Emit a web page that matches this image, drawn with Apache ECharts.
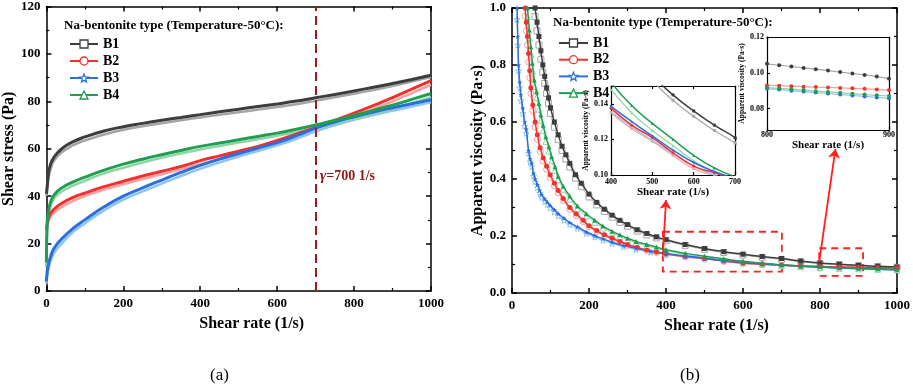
<!DOCTYPE html>
<html lang="en">
<head>
<meta charset="UTF-8" />
<title>Na-bentonite rheology</title>
<script src="https://cdn.jsdelivr.net/npm/echarts@6/dist/echarts.min.js"></script>
</head>
<body style="margin:0;background:#fff">
<div id="main" style="width:913px;height:386px"></div>
<script type="text/javascript">
// (a) shear stress vs shear rate, filled = up curve, back = light curve
var rateA = [0, 2, 5, 10, 20, 40, 70, 100, 150, 200, 250, 300, 350, 400, 450, 500, 550, 600, 650, 700, 750, 800, 850, 900, 950, 1000];
var b1A = [41, 44, 49, 53, 56.5, 60, 63, 65, 67.5, 69.3, 70.7, 72, 73.2, 74.4, 75.6, 76.7, 77.8, 78.9, 80.1, 81.5, 82.9, 84.4, 85.9, 87.5, 89.2, 91];
var b1Aback = [40, 43, 47, 51, 55, 58.5, 61.5, 63.5, 66, 68, 69.5, 70.8, 72, 73.2, 74.3, 75.4, 76.5, 77.6, 78.8, 80.2, 81.7, 83.2, 84.8, 86.5, 88.3, 90.2];
var b2A = [26, 28, 30.5, 32.5, 34.5, 37, 39.5, 41.3, 44, 46.3, 48.5, 50.5, 52.5, 55, 57, 59, 61, 63.5, 66.2, 69, 72, 75, 78.2, 81.6, 85.1, 88.7];
var b2Aback = [25, 27, 29, 31, 33, 35.5, 38, 40, 42.8, 45, 47.2, 49.2, 51.3, 53.5, 55.6, 57.6, 59.7, 62, 64.6, 67.4, 70.4, 73.5, 76.7, 80, 83.5, 87];
var b3A = [4, 8, 11, 14, 18, 22, 26.5, 30, 35.5, 40, 43.5, 46.8, 50, 53, 55.6, 58, 60.3, 62.6, 65.5, 68.7, 71.3, 73.5, 75.5, 77.3, 79, 80.7];
var b3Aback = [3, 6, 9, 12, 16, 20, 25, 28.5, 34, 38.5, 42, 45.3, 48.5, 51.5, 54.2, 56.7, 59, 61.4, 64.2, 67.3, 69.9, 72.2, 74.2, 76, 77.8, 79.6];
var b4A = [12, 29, 33, 37, 40.5, 43.5, 46, 48, 51, 53.5, 55.6, 57.5, 59.3, 61, 62.4, 63.8, 65.2, 66.6, 68.2, 70, 72, 74, 76.2, 78.4, 80.8, 83.3];
var b4Aback = [10, 27, 31.5, 35.5, 39, 42, 44.5, 46.5, 49.6, 52, 54.2, 56.2, 58, 59.7, 61.2, 62.6, 64, 65.5, 67, 68.7, 70.6, 72.6, 74.7, 76.9, 79.2, 81.7];

// (b) apparent viscosity vs shear rate
var rateB1 = [60, 65, 70, 75, 80, 85, 90, 95, 100, 110, 120, 130, 140, 150, 165, 180, 200, 220, 240, 260, 280, 300, 325, 350, 375, 400, 450, 500, 550, 600, 650, 700, 750, 800, 850, 900, 950, 1000];
var visB1 = [1.0, 0.95, 0.90, 0.85, 0.80, 0.76, 0.72, 0.685, 0.65, 0.60, 0.555, 0.515, 0.485, 0.455, 0.415, 0.385, 0.347, 0.318, 0.294, 0.273, 0.255, 0.240, 0.222, 0.209, 0.197, 0.187, 0.170, 0.156, 0.145, 0.136, 0.128, 0.121, 0.112, 0.105, 0.101, 0.097, 0.094, 0.091];
var visB1back = [0.97, 0.92, 0.87, 0.82, 0.775, 0.735, 0.70, 0.665, 0.63, 0.582, 0.538, 0.50, 0.47, 0.442, 0.403, 0.373, 0.337, 0.309, 0.286, 0.266, 0.248, 0.234, 0.217, 0.204, 0.193, 0.183, 0.167, 0.153, 0.142, 0.133, 0.125, 0.118, 0.1095, 0.1035, 0.0995, 0.096, 0.093, 0.090];
var rateB2 = [34, 37, 40, 43, 46, 49, 54, 60, 66, 73, 81, 90, 99, 110, 120, 133, 150, 167, 185, 200, 220, 240, 260, 280, 300, 325, 350, 375, 400, 450, 500, 550, 600, 650, 700, 750, 800, 850, 900, 950, 1000];
var visB2 = [1.0, 0.95, 0.90, 0.84, 0.78, 0.72, 0.66, 0.60, 0.555, 0.51, 0.475, 0.445, 0.415, 0.385, 0.36, 0.332, 0.30, 0.277, 0.255, 0.236, 0.219, 0.204, 0.192, 0.181, 0.170, 0.160, 0.151, 0.144, 0.1375, 0.128, 0.121, 0.1125, 0.105, 0.1013, 0.098, 0.095, 0.093, 0.0915, 0.0903, 0.089, 0.0885];
var visB2back = [0.97, 0.92, 0.87, 0.81, 0.755, 0.70, 0.64, 0.583, 0.54, 0.497, 0.463, 0.434, 0.405, 0.376, 0.352, 0.325, 0.294, 0.271, 0.25, 0.232, 0.215, 0.201, 0.189, 0.178, 0.167, 0.157, 0.149, 0.142, 0.135, 0.126, 0.119, 0.111, 0.1035, 0.0998, 0.0968, 0.094, 0.092, 0.0905, 0.0895, 0.0883, 0.0878];
var rateB3 = [13, 15, 17, 20, 23, 28, 33, 37, 43, 47, 51, 56, 60, 66, 72, 77, 85, 92, 99, 110, 120, 135, 150, 170, 193, 215, 236, 260, 290, 322, 360, 400, 450, 500, 550, 600, 650, 700, 750, 800, 850, 900, 950, 1000];
var visB3 = [1.0, 0.90, 0.80, 0.74, 0.695, 0.648, 0.60, 0.575, 0.50, 0.47, 0.455, 0.42, 0.40, 0.38, 0.36, 0.345, 0.33, 0.318, 0.307, 0.292, 0.278, 0.262, 0.247, 0.232, 0.214, 0.201, 0.19, 0.178, 0.166, 0.157, 0.146, 0.1385, 0.13, 0.122, 0.114, 0.107, 0.102, 0.098, 0.094, 0.091, 0.088, 0.0855, 0.083, 0.081];
var visB3back = [0.96, 0.87, 0.78, 0.72, 0.675, 0.63, 0.585, 0.56, 0.49, 0.46, 0.443, 0.41, 0.39, 0.37, 0.35, 0.336, 0.321, 0.31, 0.299, 0.284, 0.27, 0.255, 0.24, 0.226, 0.209, 0.196, 0.185, 0.174, 0.162, 0.153, 0.143, 0.1355, 0.127, 0.1195, 0.112, 0.105, 0.1, 0.096, 0.0925, 0.0895, 0.0868, 0.0843, 0.082, 0.080];
var rateB4 = [40, 45, 49, 53, 58, 64, 70, 75, 81, 88, 96, 103, 112, 120, 133, 150, 170, 193, 215, 236, 260, 280, 300, 322, 350, 375, 400, 450, 500, 550, 600, 650, 700, 750, 800, 850, 900, 950, 1000];
var visB4 = [1.0, 0.923, 0.864, 0.806, 0.747, 0.706, 0.665, 0.625, 0.589, 0.548, 0.513, 0.478, 0.443, 0.41, 0.375, 0.34, 0.305, 0.278, 0.255, 0.235, 0.217, 0.204, 0.192, 0.181, 0.17, 0.161, 0.152, 0.139, 0.129, 0.12, 0.111, 0.104, 0.099, 0.095, 0.0917, 0.089, 0.087, 0.085, 0.083];
var visB4back = [0.97, 0.895, 0.838, 0.78, 0.725, 0.685, 0.645, 0.606, 0.571, 0.532, 0.498, 0.464, 0.43, 0.398, 0.364, 0.33, 0.296, 0.27, 0.248, 0.228, 0.211, 0.198, 0.187, 0.176, 0.165, 0.157, 0.148, 0.135, 0.125, 0.1165, 0.108, 0.1015, 0.0965, 0.0925, 0.0895, 0.0868, 0.085, 0.0832, 0.0815];

// zoomed inset 800-900
var rateIn2 = [800, 810, 820, 830, 840, 850, 860, 870, 880, 890, 900];
var in2B1 = [0.1050, 0.1042, 0.1035, 0.1027, 0.1020, 0.1012, 0.1004, 0.0996, 0.0988, 0.0979, 0.0967];
var in2B2 = [0.0929, 0.0928, 0.0925, 0.0922, 0.0920, 0.0918, 0.0915, 0.0913, 0.0910, 0.0907, 0.0903];
var in2B3 = [0.0911, 0.0906, 0.0900, 0.0895, 0.0889, 0.0884, 0.0878, 0.0873, 0.0868, 0.0862, 0.0857];
var in2B4 = [0.0917, 0.0913, 0.0908, 0.0903, 0.0897, 0.0893, 0.0888, 0.0883, 0.0878, 0.0874, 0.0870];

var names = ['B1', 'B2', 'B3', 'B4'];
var dark = ['#3d3d3d', '#f2302e', '#2b6fdc', '#1f9e52'];
var light = ['#a5a5a5', '#ff9e9e', '#8cc4f2', '#8fd4a6'];
var STAR = 'path://M12,2 L14.9,8.9 L22.4,9.3 L16.6,14.1 L18.5,21.4 L12,17.3 L5.5,21.4 L7.4,14.1 L1.6,9.3 L9.1,8.9 Z';
var syms = ['rect', 'circle', STAR, 'triangle'];
var FONT = 'Liberation Serif';

function pairs(xs, ys) {
  return xs.map(function (x, i) { return [x, ys[i]]; });
}

var chart = echarts.init(document.getElementById('main'));

function axis(o, small) {
  var lw = small ? 1.2 : 1.5;
  var a = {
    type: 'value',
    axisLine: { show: true, onZero: false, lineStyle: { color: '#000', width: lw } },
    axisTick: { show: true, inside: true, length: small ? 3 : 5, lineStyle: { color: '#000', width: lw } },
    minorTick: { show: !small, splitNumber: 2, length: 3, lineStyle: { color: '#000', width: 1.2 } },
    splitLine: { show: false },
    axisLabel: { color: '#000', fontFamily: FONT, fontWeight: 'bold', fontSize: small ? 8 : 13, margin: small ? 3 : 6,
      formatter: function (v) { return String(v); } },
    nameTextStyle: { color: '#000', fontFamily: FONT, fontWeight: 'bold', fontSize: small ? 11 : 16 }
  };
  for (var k in o) {
    if (typeof o[k] === 'object' && a[k] && !Array.isArray(o[k])) a[k] = Object.assign({}, a[k], o[k]);
    else a[k] = o[k];
  }
  return a;
}

var xAxes = [
  axis({ gridIndex: 0, min: 0, max: 1000, interval: 200, name: 'Shear rate (1/s)', nameLocation: 'middle', nameGap: 25, nameTextStyle: { padding: [0, 0, 0, 26] } }),
  axis({ gridIndex: 0, position: 'top', min: 0, max: 1000, interval: 200, axisLabel: { show: false } }),
  axis({ gridIndex: 1, min: 0, max: 1000, interval: 200, name: 'Shear rate (1/s)', nameLocation: 'middle', nameGap: 25, nameTextStyle: { padding: [0, 0, 0, 24] } }),
  axis({ gridIndex: 1, position: 'top', min: 0, max: 1000, interval: 200, axisLabel: { show: false } }),
  axis({ gridIndex: 2, min: 400, max: 700, interval: 100, name: 'Shear rate (1/s)', nameLocation: 'middle', nameGap: 12, z: 11 }, true),
  axis({ gridIndex: 2, position: 'top', min: 400, max: 700, interval: 100, axisLabel: { show: false }, z: 11 }, true),
  axis({ gridIndex: 3, min: 800, max: 900, interval: 100, name: 'Shear rate (1/s)', nameLocation: 'middle', nameGap: 5, z: 11,
    axisLabel: { margin: 1 } }, true),
  axis({ gridIndex: 3, position: 'top', min: 800, max: 900, interval: 100, axisLabel: { show: false }, z: 11 }, true)
];

var yAxes = [
  axis({ gridIndex: 0, min: 0, max: 120, interval: 20, name: 'Shear stress (Pa)', nameLocation: 'middle', nameGap: 23 }),
  axis({ gridIndex: 0, position: 'right', min: 0, max: 120, interval: 20, axisLabel: { show: false } }),
  axis({ gridIndex: 1, min: 0, max: 1, interval: 0.2, name: 'Apparent viscosity (Pa·s)', nameLocation: 'middle', nameGap: 26,
    axisLabel: { formatter: function (v) { return v.toFixed(1); } } }),
  axis({ gridIndex: 1, position: 'right', min: 0, max: 1, interval: 0.2, axisLabel: { show: false } }),
  axis({ gridIndex: 2, min: 0.10, max: 0.15, name: 'Apparent viscosity (Pa·s)', nameLocation: 'middle', nameGap: 16, z: 11,
    nameTextStyle: { fontSize: 7.5 },
    axisTick: { customValues: [0.10, 0.12, 0.14] },
    axisLabel: { customValues: [0.10, 0.12, 0.14], formatter: function (v) { return v > 0.145 ? '' : v.toFixed(2); } } }, true),
  axis({ gridIndex: 2, position: 'right', min: 0.10, max: 0.15, axisLabel: { show: false }, axisTick: { show: false }, z: 11 }, true),
  axis({ gridIndex: 3, min: 0.068, max: 0.12, name: 'Apparent viscosity (Pa·s)', nameLocation: 'middle', nameGap: 19, z: 11,
    nameTextStyle: { fontSize: 7.5 },
    axisTick: { customValues: [0.08, 0.10, 0.12] },
    axisLabel: { customValues: [0.08, 0.10, 0.12], formatter: function (v) { return v.toFixed(2); } } }, true),
  axis({ gridIndex: 3, position: 'right', min: 0.068, max: 0.12, axisLabel: { show: false }, axisTick: { show: false }, z: 11 }, true)
];

var series = [];
var aUp = [b1A, b2A, b3A, b4A], aBack = [b1Aback, b2Aback, b3Aback, b4Aback];
var bRate = [rateB1, rateB2, rateB3, rateB4];
var bUp = [visB1, visB2, visB3, visB4], bBack = [visB1back, visB2back, visB3back, visB4back];
var in2 = [in2B1, in2B2, in2B3, in2B4];

names.forEach(function (n, i) {
  // panel (a)
  series.push({
    name: n + ' ', type: 'line', xAxisIndex: 0, yAxisIndex: 0, smooth: true, showSymbol: false,
    data: pairs(rateA, aBack[i]), lineStyle: { color: light[i], width: 2.5 }, itemStyle: { color: light[i] }, z: 2
  });
  series.push({
    name: n, type: 'line', xAxisIndex: 0, yAxisIndex: 0, smooth: true, symbol: syms[i], symbolSize: 7, showSymbol: false,
    data: pairs(rateA, aUp[i]), lineStyle: { color: dark[i], width: 3 }, itemStyle: { color: dark[i] }, z: 3
  });
  // panel (b)
  series.push({
    name: n + ' ', type: 'line', xAxisIndex: 2, yAxisIndex: 2, smooth: true, symbol: syms[i], symbolSize: 6,
    data: pairs(bRate[i], bBack[i]), lineStyle: { color: light[i], width: 1 },
    itemStyle: { color: '#fff', borderColor: light[i], borderWidth: 1 }, z: 2
  });
  series.push({
    name: n, type: 'line', xAxisIndex: 2, yAxisIndex: 2, smooth: true, symbol: syms[i], symbolSize: 5,
    data: pairs(bRate[i], bUp[i]), lineStyle: { color: dark[i], width: 1.5 }, itemStyle: { color: dark[i] }, z: 3
  });
  // inset 400-700
  series.push({
    name: n + '  ', type: 'line', xAxisIndex: 4, yAxisIndex: 4, smooth: true, symbol: syms[i], symbolSize: 3, clip: true,
    data: pairs(bRate[i], bBack[i]), lineStyle: { color: light[i], width: 1.2 }, itemStyle: { color: light[i] }, z: 12
  });
  series.push({
    name: n + '  ', type: 'line', xAxisIndex: 4, yAxisIndex: 4, smooth: true, symbol: syms[i], symbolSize: 3, clip: true,
    data: pairs(bRate[i], bUp[i]), lineStyle: { color: dark[i], width: 1.5 }, itemStyle: { color: dark[i] }, z: 13
  });
  // inset 800-900
  series.push({
    name: n + '   ', type: 'line', xAxisIndex: 6, yAxisIndex: 6, symbol: 'circle', symbolSize: 4, clip: true,
    data: pairs(rateIn2, in2[i]), lineStyle: { color: light[i], width: 1.2 },
    itemStyle: { color: dark[i] }, z: 12
  });
});

// dashed marker at 700 1/s on panel (a)
series[1].markLine = {
  silent: true, symbol: 'none', label: { show: false },
  lineStyle: { color: '#9c1c1c', type: [9, 5], width: 2 },
  data: [{ xAxis: 700 }]
};
// zoom boxes and arrows on panel (b)
series[3].markArea = {
  silent: true,
  itemStyle: { color: 'rgba(0,0,0,0)', borderColor: '#ff2020', borderWidth: 1.8, borderType: [7, 5] },
  data: [
    [{ coord: [392, 0.215] }, { coord: [701, 0.075] }],
    [{ coord: [798, 0.157] }, { coord: [912, 0.06] }]
  ]
};
series[3].markLine = {
  silent: true, symbol: ['none', 'arrow'], symbolSize: 9, label: { show: false },
  lineStyle: { color: '#ff2020', type: 'solid', width: 1.8 },
  data: [
    [{ coord: [392, 0.133] }, { coord: [400, 0.326] }],
    [{ coord: [798, 0.109] }, { coord: [840, 0.505] }]
  ]
};

function legendData() {
  return names.map(function (n, i) {
    return { name: n, itemStyle: { color: '#fff', borderColor: dark[i], borderWidth: 1.3 }, lineStyle: { color: dark[i], width: 2 } };
  });
}
var legendText = { fontFamily: FONT, fontWeight: 'bold', fontSize: 14, color: '#000' };

var option = {
  animation: false,
  backgroundColor: '#fff',
  grid: [
    { left: 40, right: 482, top: 6, bottom: 95 },
    { left: 512, right: 13, top: 8, bottom: 93 },
    { left: 611, width: 124, top: 86, height: 89, show: true, backgroundColor: '#fff', borderWidth: 0, z: 10 },
    { left: 767, width: 122, top: 37, height: 93, show: true, backgroundColor: '#fff', borderWidth: 0, z: 10 }
  ],
  xAxis: xAxes,
  yAxis: yAxes,
  legend: [
    { orient: 'vertical', left: 64, top: 32, itemWidth: 28, itemHeight: 10, itemGap: 3, data: legendData(), textStyle: legendText, selectedMode: false },
    { orient: 'vertical', left: 553, top: 31, itemWidth: 29, itemHeight: 10, itemGap: 2.7, data: legendData(), textStyle: legendText, selectedMode: false }
  ],
  graphic: [
    { type: 'text', left: 64, top: 19, style: { text: 'Na-bentonite type (Temperature-50°C):', font: 'bold 13px "Liberation Serif"', fill: '#000' } },
    { type: 'text', left: 553, top: 16, style: { text: 'Na-bentonite type (Temperature-50°C):', font: 'bold 13px "Liberation Serif"', fill: '#000' } },
    { type: 'text', left: 320, top: 169, style: {
        text: '{i|γ}=700 1/s', font: 'bold 14px "Liberation Serif"', fill: '#8b1a1a',
        rich: { i: { fontStyle: 'italic', fontWeight: 'bold', fontSize: 15, fontFamily: FONT, fill: '#8b1a1a' } } } },
    { type: 'text', left: 210, top: 367, style: { text: '(a)', font: '17px "Liberation Serif"', fill: '#000' } },
    { type: 'text', left: 680, top: 367, style: { text: '(b)', font: '17px "Liberation Serif"', fill: '#000' } }
  ],
  series: series
};

chart.setOption(option);
</script>
</body>
</html>
